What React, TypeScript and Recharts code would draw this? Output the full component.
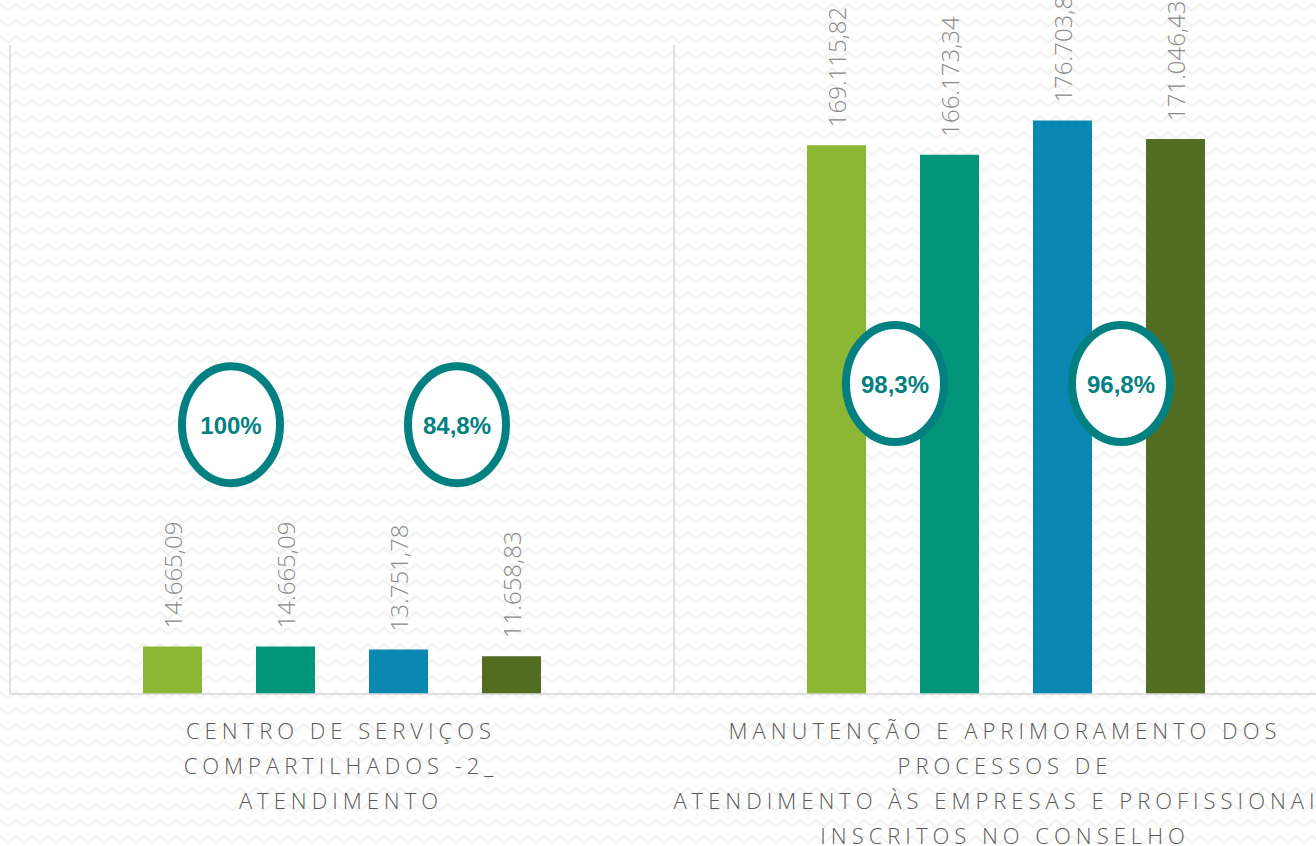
import React from "react";
import { BarChart, Bar, XAxis, YAxis, CartesianGrid, LabelList } from "recharts";

const categories = ["centro", "manutencao"];
const categoryLines = [
  ["CENTRO DE SERVIÇOS", "COMPARTILHADOS -2_", "ATENDIMENTO"],
  [
    "MANUTENÇÃO E APRIMORAMENTO DOS",
    "PROCESSOS DE",
    "ATENDIMENTO ÀS EMPRESAS E PROFISSIONAIS",
    "INSCRITOS NO CONSELHO",
  ],
];
const seriesA = [14665.09, 169115.82];
const seriesB = [14665.09, 166173.34];
const seriesC = [13751.78, 176703.8];
const seriesD = [11658.83, 171046.43];
const ratioAB = ["100%", "98,3%"];
const ratioCD = ["84,8%", "96,8%"];
const badgeLevel = [83000, 95700];

const colors = ["#8BB735", "#03957A", "#0B88B2", "#526D21"];

const data = categories.map((c, i) => ({
  name: c,
  a: seriesA[i],
  b: seriesB[i],
  c: seriesC[i],
  d: seriesD[i],
}));

const fmt = (v: number) => {
  const [int, dec] = v.toFixed(2).split(".");
  const withDots = int.replace(/\B(?=(\d{3})+(?!\d))/g, ".");
  return `${withDots},${dec}`;
};

const geom = (p: any) => {
  const vb = p.viewBox || {};
  return {
    x: p.x ?? vb.x,
    y: p.y ?? vb.y,
    width: p.width ?? vb.width,
    height: p.height ?? vb.height,
  };
};

const ValueLabel = (p: any) => {
  const { x, y, width } = geom(p);
  if (x == null) return null;
  const cx = x + width / 2;
  const ty = y - 18;
  return (
    <text
      x={cx}
      y={ty}
      transform={`rotate(-90 ${cx} ${ty})`}
      textAnchor="start"
      dominantBaseline="central"
      fill="#8a8a8a"
      fontFamily="'Open Sans', sans-serif"
      fontWeight={300}
      fontSize={24}
    >
      {fmt(Number(p.value))}
    </text>
  );
};

const makeBadge = (texts: string[]) => (p: any) => {
  const { x, y, height } = geom(p);
  if (x == null) return null;
  const idx = p.index ?? 0;
  const value = Number(p.value);
  const baseline = y + height;
  const pxPerUnit = height / value;
  const cy = baseline - badgeLevel[idx] * pxPerUnit;
  const cx = x - 25;
  return (
    <g>
      <ellipse cx={cx} cy={cy} rx={49} ry={58.5} fill="#ffffff" stroke="#008080" strokeWidth={8} />
      <text
        x={cx}
        y={cy + 1}
        textAnchor="middle"
        dominantBaseline="central"
        fill="#008080"
        fontFamily="'Liberation Sans', Arial, sans-serif"
        fontWeight={700}
        fontSize={24}
      >
        {texts[idx]}
      </text>
    </g>
  );
};

const BadgeAB = makeBadge(ratioAB);
const BadgeCD = makeBadge(ratioCD);

const CategoryTick = (p: any) => {
  const { x, y, index } = p;
  const lines = categoryLines[index] || [];
  return (
    <g>
      {lines.map((l, i) => (
        <text
          key={i}
          x={x - 1}
          y={y + 45 + i * 35}
          textAnchor="middle"
          fill="#595959"
          fontFamily="'Open Sans', sans-serif"
          fontWeight={300}
          fontSize={22}
          letterSpacing={5}
        >
          {l}
        </text>
      ))}
    </g>
  );
};

const vGen = ({ offset }: any) => {
  const n = categories.length;
  const out: number[] = [];
  for (let i = 0; i <= n; i++) out.push(offset.left + (offset.width * i) / n);
  return out;
};

export default function App() {
  return (
    <div style={{ position: "relative", width: 1316, height: 846, overflow: "hidden", background: "#fff" }}>
      <style>{`body{margin:0}`}</style>
      <svg width={1316} height={846} style={{ position: "absolute", left: 0, top: 0 }}>
        <defs>
          <pattern id="zig" width={16} height={16} patternUnits="userSpaceOnUse">
            <path d="M0 4 L8 11 L16 4" fill="none" stroke="#f0f0f0" strokeWidth={2} />
          </pattern>
        </defs>
        <rect width={1316} height={846} fill="url(#zig)" />
      </svg>
      <div style={{ position: "absolute", left: 0, top: 0 }}>
        <BarChart
          width={1340}
          height={846}
          data={data}
          margin={{ top: 45, right: 2, left: 10, bottom: 0 }}
          barCategoryGap="20%"
          barGap={54}
        >
          <CartesianGrid
            horizontal={false}
            vertical={true}
            stroke="#d9d9d9"
            strokeWidth={1.5}
            verticalCoordinatesGenerator={vGen}
          />
          <XAxis
            dataKey="name"
            axisLine={{ stroke: "#d9d9d9", strokeWidth: 1.5 }}
            tickLine={false}
            tickSize={0}
            tickMargin={0}
            height={152}
            interval={0}
            tick={<CategoryTick />}
          />
          <YAxis hide domain={[0, 200000]} />
          <Bar dataKey="a" fill={colors[0]} barSize={59} isAnimationActive={false}>
            <LabelList dataKey="a" content={<ValueLabel />} />
          </Bar>
          <Bar dataKey="b" fill={colors[1]} barSize={59} isAnimationActive={false}>
            <LabelList dataKey="b" content={<ValueLabel />} />
            <LabelList dataKey="b" content={<BadgeAB />} />
          </Bar>
          <Bar dataKey="c" fill={colors[2]} barSize={59} isAnimationActive={false}>
            <LabelList dataKey="c" content={<ValueLabel />} />
          </Bar>
          <Bar dataKey="d" fill={colors[3]} barSize={59} isAnimationActive={false}>
            <LabelList dataKey="d" content={<ValueLabel />} />
            <LabelList dataKey="d" content={<BadgeCD />} />
          </Bar>
        </BarChart>
      </div>
    </div>
  );
}
